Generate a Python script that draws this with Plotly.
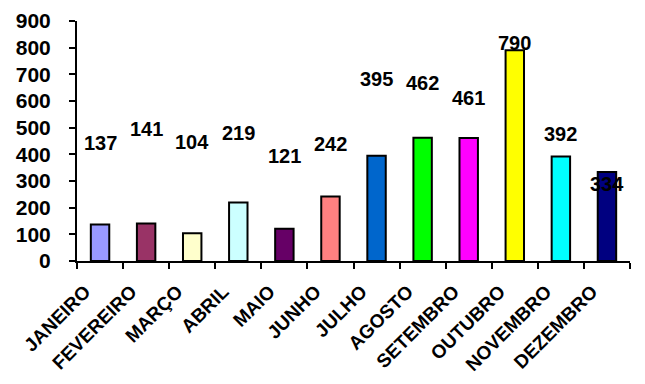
import plotly.graph_objects as go

months = ["JANEIRO", "FEVEREIRO", "MARÇO", "ABRIL", "MAIO", "JUNHO",
          "JULHO", "AGOSTO", "SETEMBRO", "OUTUBRO", "NOVEMBRO", "DEZEMBRO"]
values = [137, 141, 104, 219, 121, 242, 395, 462, 461, 790, 392, 334]
colors = ["#9999FF", "#993366", "#FFFFCC", "#CCFFFF", "#660066", "#FF8080",
          "#0066CC", "#00FF00", "#FF00FF", "#FFFF00", "#00FFFF", "#000080"]
y_ticks = [0, 100, 200, 300, 400, 500, 600, 700, 800, 900]
# data-label placement (data units), as hand-placed in the original
label_y = [442, 495, 446, 480, 394, 439, 682, 667, 611, 817, 476, 289]

FONT = "Liberation Sans"

fig = go.Figure(go.Bar(
    x=months, y=values, width=0.4,
    marker=dict(color=colors, line=dict(color="black", width=2)),
    hoverinfo="x+y",
))

for m, ly, v in zip(months, label_y, values):
    fig.add_annotation(x=m, y=ly, text="<b>%d</b>" % v, showarrow=False,
                       font=dict(family=FONT, size=20, color="black"),
                       xanchor="center", yanchor="middle")

# page body has an 8px default margin, so the figure is sized to fit the window
fig.update_layout(
    width=637, height=376,
    margin=dict(l=69, r=15, t=13, b=123),
    paper_bgcolor="white", plot_bgcolor="white",
    showlegend=False,
    font=dict(family=FONT, color="black"),
)
fig.update_xaxes(
    type="category", tickson="boundaries", ticks="outside", ticklen=6, tickwidth=2,
    tickcolor="black", showline=True, linecolor="black", linewidth=2,
    tickangle=-45, tickfont=dict(family=FONT, size=19), showgrid=False,
    tickvals=months, ticktext=["<b>%s</b>" % m for m in months],
    ticklabelstandoff=10, ticklabelshift=-15, automargin=False,
)
fig.update_yaxes(
    range=[0, 900], tickvals=y_ticks, ticktext=["<b>%d</b>" % t for t in y_ticks],
    ticks="outside", ticklen=6, tickwidth=2,
    tickcolor="black", showline=True, linecolor="black", linewidth=2,
    tickfont=dict(family=FONT, size=21), showgrid=False, zeroline=False,
    ticklabelstandoff=14, automargin=False,
)

fig.write_html("out.html")
